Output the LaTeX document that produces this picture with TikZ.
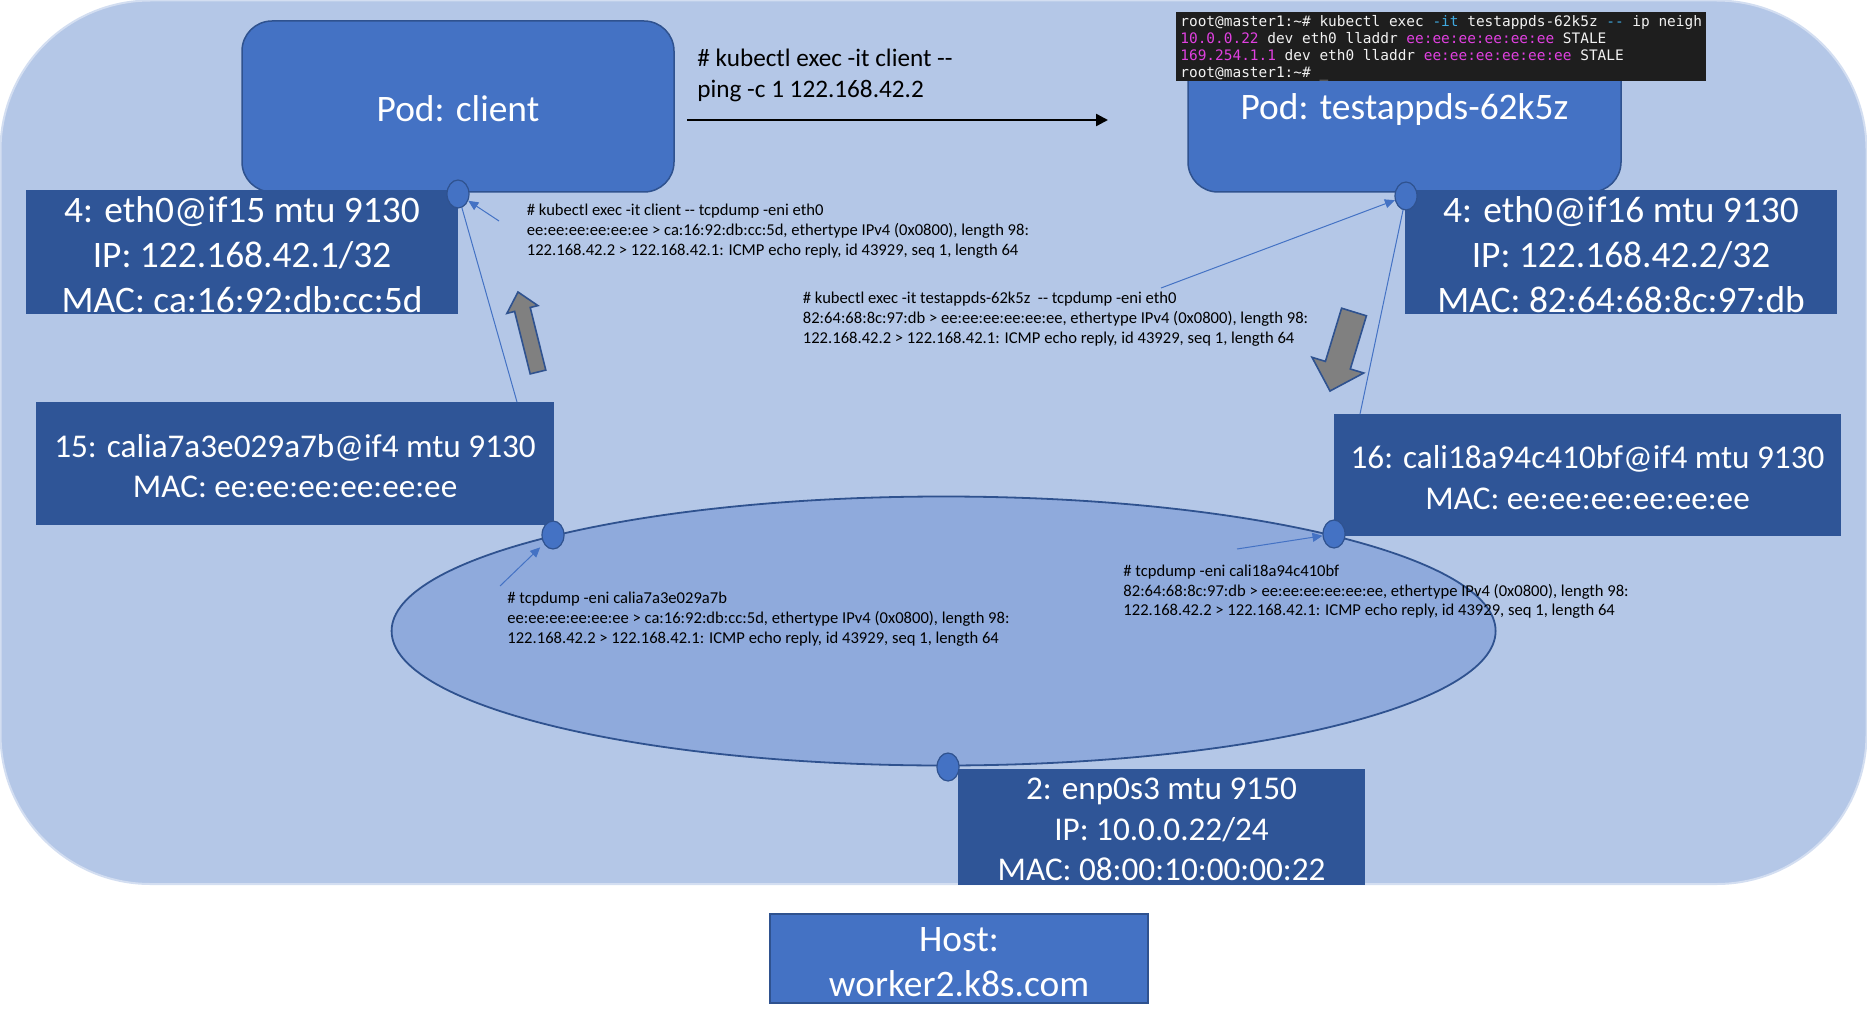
\documentclass[tikz,border=0pt]{standalone}
\usepackage{fontspec}
\setmainfont{Carlito}[Ligatures=TeXOff]
\setmonofont{DejaVu Sans Mono}
\usetikzlibrary{arrows.meta,shapes.geometric,calc}
\definecolor{outerfill}{HTML}{B4C7E7}
\definecolor{outerline}{HTML}{D3DEF1}
\definecolor{podfill}{HTML}{4472C4}
\definecolor{podline}{HTML}{2F528F}
\definecolor{ifbox}{HTML}{2F5597}
\definecolor{ellfill}{HTML}{8FAADC}
\definecolor{termbg}{HTML}{1E1E1E}
\definecolor{termfg}{HTML}{F2F2F2}
\definecolor{termmag}{HTML}{E040E0}
\definecolor{termcyan}{HTML}{3FA9E0}
\definecolor{blockgray}{HTML}{808080}
% pushes a box's text down by half the raise, without moving the box
\newcommand\lowertxt[1]{\raisebox{#1}{\vphantom{Plf(@}}}
\tikzset{
  bigfont/.style={font=\fontsize{18.7}{22.5}\selectfont},
  midfont/.style={font=\fontsize{16.6}{20.3}\selectfont},
  podbox/.style={rectangle, rounded corners=15pt, fill=podfill, draw=podline, line width=0.75pt, text=white, bigfont, inner sep=0pt},
  ifacebig/.style={rectangle, fill=ifbox, text=white, bigfont, align=center, inner sep=0pt},
  ifacemid/.style={rectangle, fill=ifbox, text=white, midfont, align=center, inner sep=0pt},
  portdot/.style={ellipse, minimum width=11pt, minimum height=14pt, fill=podfill, draw=podline, line width=0.6pt, inner sep=0pt},
  conn/.style={draw=podfill, line width=0.5pt},
  connarrow/.style={conn, -{Triangle[length=5pt,width=4.5pt]}},
  dumptext/.style={anchor=west, align=left, inner sep=0pt, yshift=-1.2pt, font=\fontsize{8.3}{9.9}\selectfont},
  blockarrow/.style={fill=blockgray, draw=podline, line width=0.8pt, line join=miter},
}
\begin{document}
\begin{tikzpicture}[x=0.5pt, y=-0.5pt]
\useasboundingbox (0,0) rectangle (1867,1027);
% host area
\draw[fill=outerfill, draw=outerline, line width=1pt, rounded corners=75pt] (0.5,0.5) rectangle (1866.5,884);
% host network ellipse
\node[ellipse, minimum width=552pt, minimum height=134.5pt, fill=ellfill, draw=podline, line width=0.9pt, inner sep=0pt] (hostnet) at (943.6,631) {};
% pods
\node[podbox, minimum width=216pt, minimum height=85.5pt] (podc) at (458,106.5) {\lowertxt{2.2pt}Pod: client};
\node[podbox, minimum width=216.5pt, minimum height=85.5pt] (podt) at (1404.5,106.5) {\lowertxt{2.2pt}Pod: testappds-62k5z};
% terminal
\node[anchor=west, fill=termbg, text=termfg, align=left, inner xsep=2pt, inner ysep=0pt, minimum height=34.5pt,
      font=\ttfamily\fontsize{7.22}{8.5}\selectfont] (term) at (1176,46.5)
 {\lowertxt{1.4pt}root@master1:\textasciitilde\# kubectl exec \textcolor{termcyan}{-it} testappds-62k5z \textcolor{termcyan}{--} ip neigh\\
  \textcolor{termmag}{10.0.0.22} dev eth0 lladdr \textcolor{termmag}{ee:ee:ee:ee:ee:ee} STALE\\
  \textcolor{termmag}{169.254.1.1} dev eth0 lladdr \textcolor{termmag}{ee:ee:ee:ee:ee:ee} STALE\\
  root@master1:\textasciitilde\# \textcolor{gray!70}{\_}};
% interface boxes
\node[ifacebig, minimum width=216pt, minimum height=62pt] (ethc) at (242,252)
 {\lowertxt{1.6pt}4: eth0@if15 mtu 9130\\IP: 122.168.42.1/32\\MAC: ca:16:92:db:cc:5d};
\node[ifacebig, minimum width=216pt, minimum height=62pt] (etht) at (1621,252)
 {\lowertxt{1.6pt}4: eth0@if16 mtu 9130\\IP: 122.168.42.2/32\\MAC: 82:64:68:8c:97:db};
\node[ifacemid, minimum width=259pt, minimum height=61.5pt] (calil) at (295,463.5)
 {\lowertxt{1.8pt}15: calia7a3e029a7b@if4 mtu 9130\\MAC: ee:ee:ee:ee:ee:ee};
\node[ifacemid, minimum width=253.5pt, minimum height=61pt] (calir) at (1587.5,475)
 {\lowertxt{1.8pt}16: cali18a94c410bf@if4 mtu 9130\\MAC: ee:ee:ee:ee:ee:ee};
\node[ifacemid, minimum width=203.5pt, minimum height=58pt] (enp) at (1161.5,827)
 {\lowertxt{1.2pt}2: enp0s3 mtu 9150\\IP: 10.0.0.22/24\\MAC: 08:00:10:00:00:22};
% host label
\node[rectangle, fill=podfill, draw=podline, line width=0.7pt, text=white, bigfont, align=center, inner sep=0pt,
      minimum width=189pt, minimum height=44.5pt] (hostlbl) at (959,958.5) {\lowertxt{1.8pt}Host:\\worker2.k8s.com};
% ping command
\node[anchor=west, align=left, inner sep=0pt, yshift=-1.2pt, font=\fontsize{12.6}{15.5}\selectfont] (pingtxt) at (697,73.5)
 {\# kubectl exec -it client --\\ping -c 1 122.168.42.2};
\coordinate (pingA) at (687,120);
\coordinate (pingB) at (1108,120);
\draw[line width=1.2pt, -{Triangle[length=6pt,width=6pt]}] (pingA) -- (pingB);
% tcpdump texts
\node[dumptext] (dump1) at (526.5,228.6)
 {\# kubectl exec -it client -- tcpdump -eni eth0\\ee:ee:ee:ee:ee:ee > ca:16:92:db:cc:5d, ethertype IPv4 (0x0800), length 98:\\122.168.42.2 > 122.168.42.1: ICMP echo reply, id 43929, seq 1, length 64};
\node[dumptext] (dump2) at (802.5,316.7)
 {\# kubectl exec -it testappds-62k5z \ -- tcpdump -eni eth0\\82:64:68:8c:97:db > ee:ee:ee:ee:ee:ee, ethertype IPv4 (0x0800), length 98:\\122.168.42.2 > 122.168.42.1: ICMP echo reply, id 43929, seq 1, length 64};
\node[dumptext] (dump3) at (507,616.8)
 {\# tcpdump -eni calia7a3e029a7b\\ee:ee:ee:ee:ee:ee > ca:16:92:db:cc:5d, ethertype IPv4 (0x0800), length 98:\\122.168.42.2 > 122.168.42.1: ICMP echo reply, id 43929, seq 1, length 64};
\node[dumptext] (dump4) at (1123,589.4)
 {\# tcpdump -eni cali18a94c410bf\\82:64:68:8c:97:db > ee:ee:ee:ee:ee:ee, ethertype IPv4 (0x0800), length 98:\\122.168.42.2 > 122.168.42.1: ICMP echo reply, id 43929, seq 1, length 64};
% ports
\node[portdot] (pcport) at (458,194) {};
\node[portdot] (ptport) at (1406,196) {};
\node[portdot] (clport) at (553,535) {};
\node[portdot] (crport) at (1334,534) {};
\node[portdot] (enport) at (948,767) {};
% connectors
\coordinate (vethL) at (517,402);
\coordinate (vethR) at (1360,414);
\coordinate (d1) at (499,221);
\coordinate (d2) at (1161,288);
\coordinate (d3) at (500,586);
\coordinate (d4) at (1237,549);
\draw[conn] (vethL) -- (pcport);
\draw[conn] (vethR) -- (ptport);
\draw[connarrow] (d1) -- (pcport);
\draw[connarrow] (d2) -- (ptport);
\draw[connarrow, shorten >=2.5pt] (d3) -- (clport);
\draw[connarrow] (d4) -- (crport);
% block arrows
\draw[blockarrow] (545.8,370.1) -- (530.2,307.5) -- (537.9,305.6) -- (518,292) -- (506.9,313.4) -- (514.6,311.4) -- (530.2,373.9) -- cycle;
\draw[blockarrow] (1366.4,315.8) -- (1350.3,369.0) -- (1363.7,373.0) -- (1330,391) -- (1312.0,357.3) -- (1325.4,361.4) -- (1341.6,308.2) -- cycle;
\end{tikzpicture}
\end{document}
